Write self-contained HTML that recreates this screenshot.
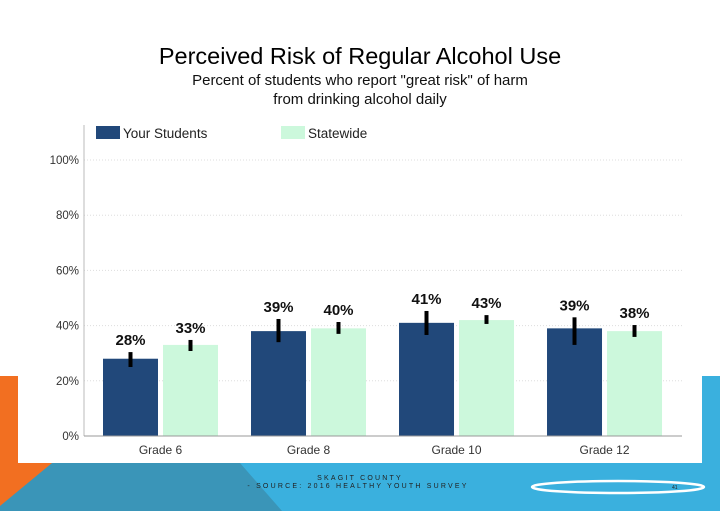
<!DOCTYPE html>
<html><head><meta charset="utf-8"><style>
body{margin:0;width:720px;height:511px;overflow:hidden;background:#fff;font-family:"Liberation Sans",sans-serif;}
</style></head><body>
<svg width="720" height="511" xmlns="http://www.w3.org/2000/svg">
<g>
<rect x="0" y="376" width="18" height="135" fill="#f26f21"/>
<rect x="702" y="376" width="18" height="135" fill="#3ab0de"/>
<polygon points="0,463 720,463 720,511 0,511" fill="#3ab0de"/>
<polygon points="18,463 240,463 282,511 0,511 0,505" fill="#3a95b8"/>
<polygon points="0,463 52,463 0,506" fill="#f26f21"/>
<rect x="18" y="110" width="684" height="353" fill="#fff"/>
</g>
<text x="360" y="64" text-anchor="middle" font-size="23.5" fill="#000">Perceived Risk of Regular Alcohol Use</text>
<text x="360" y="85" text-anchor="middle" font-size="15" fill="#111">Percent of students who report "great risk" of harm</text>
<text x="360" y="104" text-anchor="middle" font-size="15" fill="#111">from drinking alcohol daily</text>
<g id="chart"></g>
<text x="360" y="480" text-anchor="middle" font-size="7" letter-spacing="2.2" fill="#222">SKAGIT COUNTY</text>
<text x="358" y="488" text-anchor="middle" font-size="7" letter-spacing="2.2" fill="#222">- SOURCE: 2016 HEALTHY YOUTH SURVEY</text>
<ellipse cx="618" cy="487" rx="86" ry="6" fill="none" stroke="#fff" stroke-width="2.5"/>
<text x="672" y="489" font-size="5" fill="#222">41</text>
</svg>
<script>
const categories=["Grade 6","Grade 8","Grade 10","Grade 12"];
const yourStudents=[28,38,41,39];
const statewide=[33,39,42,38];
const yourLabels=["28%","39%","41%","39%"];
const stateLabels=["33%","40%","43%","38%"];
const yourErrLow=[25,34,36.6,33];
const yourErrHigh=[30.4,42.4,45.3,43];
const stateErrLow=[30.8,37,40.6,35.9];
const stateErrHigh=[34.8,41.3,43.8,40.2];
const yTicks=[0,20,40,60,80,100];
const NS="http://www.w3.org/2000/svg";
const g=document.getElementById('chart');
const x0=84,x1=682,yBase=436,yTop=160;
const y=v=>yBase-(v/100)*(yBase-yTop);
const groupW=(x1-x0)/categories.length*0.99;
const gx=i=>x0+19+i*groupW;
function mk(tag,attrs,txt){const e=document.createElementNS(NS,tag);for(const k in attrs)e.setAttribute(k,attrs[k]);if(txt!==undefined)e.textContent=txt;g.appendChild(e);return e;}
yTicks.forEach(t=>{
 if(t>0){const l=mk('line',{x1:x0,x2:x1,y1:y(t),y2:y(t),stroke:'#ddd','stroke-dasharray':'1,2'});
 
 }
 const tx=mk('text',{x:79,y:y(t)+4,'text-anchor':'end','font-size':11.5,fill:'#333'},t+'%');
 
 
});
const ax=mk('line',{x1:x0,x2:x0,y1:125,y2:yBase,stroke:'#bbb'});


const bw=55;
function bar(i,off,v,lo,hi,lab,col,name){
 const bx=gx(i)+off;
 const r=mk('rect',{x:bx,y:y(v),width:bw,height:yBase-y(v),fill:col});
 
 
 const e=mk('line',{x1:bx+bw/2,x2:bx+bw/2,y1:y(hi),y2:y(lo),stroke:'#000','stroke-width':4});
 
 
 const t=mk('text',{x:bx+bw/2,y:y(hi)-7,'text-anchor':'middle','font-size':15,'font-weight':'bold',fill:'#111'},lab);
 
 
}
categories.forEach((c,i)=>{
 bar(i,0,yourStudents[i],yourErrLow[i],yourErrHigh[i],yourLabels[i],'#21487a','your-students');
 bar(i,60,statewide[i],stateErrLow[i],stateErrHigh[i],stateLabels[i],'#ccf8dc','statewide');
 const t=mk('text',{x:gx(i)+57.5,y:454,'text-anchor':'middle','font-size':12,fill:'#333'},c);
 
 
});
const xa=mk('line',{x1:x0,x2:x1,y1:yBase,y2:yBase,stroke:'#999'});


const l1=mk('rect',{x:96,y:126,width:24,height:13,fill:'#21487a'});


const l1t=mk('text',{x:123,y:138,'font-size':13.5,fill:'#222'},'Your Students');


const l2=mk('rect',{x:281,y:126,width:24,height:13,fill:'#ccf8dc'});


const l2t=mk('text',{x:308,y:138,'font-size':13.5,fill:'#222'},'Statewide');


</script>
</body></html>
